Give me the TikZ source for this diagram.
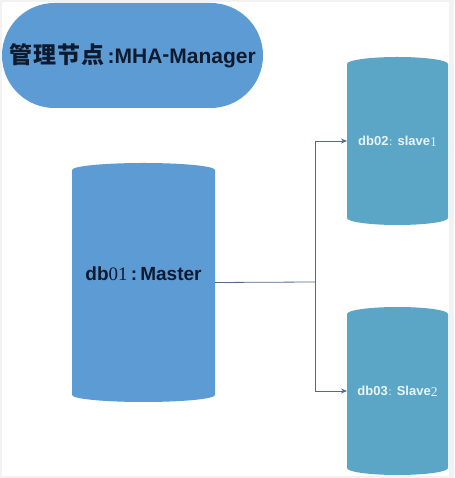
\documentclass[tikz,border=0pt]{standalone}
\usepackage{fontspec}
\setmainfont{Liberation Sans}
\newfontfamily\cjk{Noto Sans CJK SC}
\newfontfamily\serifdig{Liberation Serif}
\usetikzlibrary{arrows.meta,backgrounds}
\definecolor{mblue}{HTML}{5D9BD5}
\definecolor{sblue}{HTML}{5BA6C6}
\definecolor{lnc}{HTML}{55698C}
\definecolor{darktxt}{HTML}{0E1A2E}
\definecolor{lighttxt}{HTML}{EAF4F8}
\definecolor{frame}{HTML}{F2F2F2}
\tikzset{
  cylnode/.style={inner sep=0pt, outer sep=0pt},
  conn/.style={draw=lnc, line width=0.8pt},
  arr/.style={conn, -{Stealth[length=6pt,width=5pt]}},
}
\newcommand{\cylfill}[4]{% name, colour, x radius, y radius
  \fill[#2] ([yshift=-#4]#1.north west)
    arc[start angle=180, end angle=0, x radius=#3, y radius=#4]
    -- ([yshift=#4]#1.south east)
    arc[start angle=0, end angle=-180, x radius=#3, y radius=#4]
    -- cycle;}
\begin{document}
\begin{tikzpicture}[x=1pt,y=1pt]
\useasboundingbox (0,0) rectangle (454,478);

% manager (stadium)
\node[cylnode, fill=mblue, rounded corners=52.5pt, minimum width=261pt, minimum height=105pt,
      text=darktxt, font=\bfseries\fontsize{21}{23}\selectfont] (mgr) at (132.5,422.5)
  {{\cjk\fontsize{23}{25}\selectfont 管\hspace{1pt}理\hspace{1pt}节\hspace{1pt}点}\,:MHA\raisebox{2pt}{-}Manager};

% master
\node[cylnode, minimum width=143pt, minimum height=239pt, text=darktxt,
      font=\bfseries\fontsize{19}{21}\selectfont] (m) at (143.5,195.5)
  {\raisebox{9pt}[\height][\depth]{db{\serifdig\mdseries 01}\,:\,Master}};

% slaves
\node[cylnode, minimum width=101pt, minimum height=168pt, text=lighttxt,
      font=\bfseries\fontsize{13}{15}\selectfont] (s1) at (397.5,337)
  {db02{\cjk\mdseries\fontsize{9}{10}\selectfont ：}slave{\serifdig\mdseries\fontsize{13.5}{15}\selectfont\raisebox{-1pt}{1}}};
\node[cylnode, minimum width=101pt, minimum height=168pt, text=lighttxt,
      font=\bfseries\fontsize{13}{15}\selectfont] (s2) at (397.5,87)
  {db03{\cjk\mdseries\fontsize{9}{10}\selectfont ：}Slave{\serifdig\mdseries\fontsize{13.5}{15}\selectfont\raisebox{-1pt}{2}}};

\begin{scope}[on background layer]
  \fill[frame] (0,0) rectangle (454,478);
  \fill[white] (2,2) rectangle (449,476);
  \cylfill{m}{mblue}{71.5pt}{7pt}
  \cylfill{s1}{sblue}{50.5pt}{7pt}
  \cylfill{s2}{sblue}{50.5pt}{7pt}
\end{scope}

% connectors
\coordinate (j) at (315,196);
\draw[conn] (m.east) -- (j);
\draw[arr] (j) |- (s1.west);
\draw[arr] (j) |- (s2.west);
\end{tikzpicture}
\end{document}
